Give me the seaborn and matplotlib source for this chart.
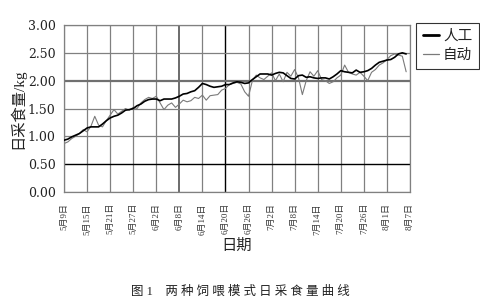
import numpy as np
import pandas as pd
import matplotlib
matplotlib.use("Agg")
import matplotlib.pyplot as plt
import seaborn as sns
from matplotlib.lines import Line2D

sns.set_style("white")
plt.rcParams['font.family'] = ['Liberation Serif', 'Noto Sans CJK SC', 'DejaVu Sans']

tick_labels = ["5月9日", "5月15日", "5月21日", "5月27日", "6月2日", "6月8日", "6月14日",
               "6月20日", "6月26日", "7月2日", "7月8日", "7月14日", "7月20日", "7月26日",
               "8月1日", "8月7日"]
yticks = [0.0, 0.5, 1.0, 1.5, 2.0, 2.5, 3.0]

manual = [0.93, 0.95, 0.99, 1.02, 1.05, 1.10, 1.15, 1.17, 1.17, 1.17,
          1.22, 1.28, 1.33, 1.36, 1.38, 1.42, 1.47, 1.48, 1.50, 1.55,
          1.58, 1.63, 1.66, 1.67, 1.67, 1.64, 1.67, 1.67, 1.67, 1.69,
          1.72, 1.76, 1.77, 1.80, 1.82, 1.88, 1.95, 1.93, 1.90, 1.88,
          1.89, 1.90, 1.93, 1.93, 1.96, 1.98, 1.97, 1.95, 1.96, 2.02,
          2.07, 2.12, 2.12, 2.12, 2.10, 2.13, 2.15, 2.14, 2.09, 2.04,
          2.03, 2.09, 2.10, 2.06, 2.07, 2.05, 2.04, 2.05, 2.05, 2.03,
          2.07, 2.12, 2.18, 2.16, 2.15, 2.14, 2.19, 2.15, 2.16, 2.18,
          2.22, 2.28, 2.33, 2.35, 2.37, 2.38, 2.42, 2.48, 2.50, 2.48]
auto = [0.87, 0.90, 0.96, 1.00, 1.05, 1.12, 1.08, 1.18, 1.36, 1.20,
        1.17, 1.28, 1.38, 1.48, 1.40, 1.45, 1.50, 1.47, 1.52, 1.50,
        1.60, 1.66, 1.70, 1.68, 1.72, 1.60, 1.48, 1.56, 1.60, 1.52,
        1.58, 1.65, 1.62, 1.64, 1.70, 1.68, 1.74, 1.65, 1.73, 1.74,
        1.75, 1.83, 1.86, 1.93, 1.95, 1.97, 1.94, 1.80, 1.72, 2.00,
        2.10, 2.05, 2.02, 2.08, 2.14, 2.00, 2.12, 1.98, 2.15, 2.08,
        2.20, 2.05, 1.75, 2.00, 2.16, 2.08, 2.18, 2.02, 2.00, 1.95,
        1.98, 2.05, 2.10, 2.28, 2.15, 2.12, 2.10, 2.15, 2.08, 2.00,
        2.15, 2.20, 2.28, 2.32, 2.38, 2.45, 2.48, 2.46, 2.44, 2.16]

days = np.arange(len(manual))
df = pd.DataFrame({"day": days, "人工": manual, "自动": auto})

fig = plt.figure(figsize=(4.81, 3.04), dpi=100)
ax = fig.add_axes([64/481, 1-192/304, 346/481, 167/304])

tick_pos = np.arange(0, 91, 6)
# grid
for i, x in enumerate(tick_pos):
    col, lw = "#808080", 0.9
    if i == 7:
        col, lw = "black", 1.0
    elif i == 5:
        col, lw = "#606060", 1.3
    ax.axvline(x, color=col, lw=lw, zorder=0)
for y in yticks:
    col, lw = "#808080", 0.9
    if y == 0.5:
        col, lw = "black", 1.0
    elif y == 2.0:
        col, lw = "#707070", 1.6
    ax.axhline(y, color=col, lw=lw, zorder=0)

sns.lineplot(data=df, x="day", y="自动", ax=ax, color="#7a7a7a", lw=0.8, zorder=2)
sns.lineplot(data=df, x="day", y="人工", ax=ax, color="black", lw=1.2, zorder=3)

ax.set_xlim(0, 90)
ax.set_ylim(0, 3.0)
ax.set_xticks(tick_pos)
ax.set_xticklabels(tick_labels, rotation=90, fontsize=6.5, color="#333333")
ax.set_yticks(yticks)
ax.set_yticklabels([f"{v:.2f}" for v in yticks], fontsize=9, family="DejaVu Serif", color="#222222")
ax.tick_params(axis="y", length=0, pad=6)
ax.tick_params(axis="x", length=0, pad=8)
for s in ax.spines.values():
    s.set_color("#808080")
    s.set_linewidth(0.9)

ax.set_xlabel("日期", fontsize=11, labelpad=3, color="#222222")
ax.set_ylabel("日采食量/kg", fontsize=11, labelpad=2, color="#222222")

handles = [Line2D([], [], color="black", lw=2.0), Line2D([], [], color="#7a7a7a", lw=0.9)]
leg = fig.legend(handles, ["人工", "自动"], loc="upper left",
                 bbox_to_anchor=(416/481, 1-23/304), frameon=True, fancybox=False,
                 fontsize=10.5, handlelength=1.1, handletextpad=0.3, borderpad=0.45,
                 labelspacing=0.4, borderaxespad=0, labelcolor="#222222")
leg.get_frame().set_edgecolor("black")
leg.get_frame().set_linewidth(0.8)

fig.text(240/481, 1-292/304, "图 1    两 种 饲 喂 模 式 日 采 食 量 曲 线", ha="center", va="center",
         fontsize=9, color="#222222")

fig.savefig("out.png", dpi=100)
